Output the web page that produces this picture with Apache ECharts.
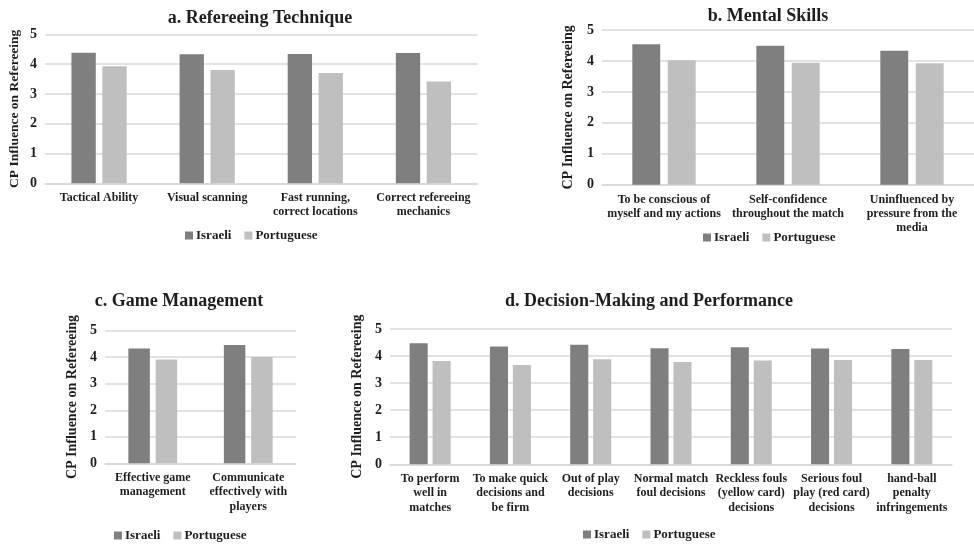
<!DOCTYPE html>
<html>
<head>
<meta charset="utf-8">
<script src="https://cdn.jsdelivr.net/npm/echarts@6/dist/echarts.min.js"></script>
<style>
html,body{margin:0;padding:0;background:#fff;}
#chart{width:974px;height:545px;}
</style>
</head>
<body>
<div id="chart"></div>
<script>
const seriesNames = ['Israeli', 'Portuguese'];
const yTicks = [0, 1, 2, 3, 4, 5];

const titleA = 'a. Refereeing Technique';
const catA = ['Tactical Ability', 'Visual scanning', 'Fast running,\ncorrect locations', 'Correct refereeing\nmechanics'];
const israeliA = [4.38, 4.33, 4.34, 4.37];
const portugueseA = [3.93, 3.80, 3.70, 3.42];

const titleB = 'b. Mental Skills';
const catB = ['To be conscious of\nmyself and my actions', 'Self-confidence\nthroughout the match', 'Uninfluenced by\npressure from the\nmedia'];
const israeliB = [4.54, 4.49, 4.33];
const portugueseB = [4.02, 3.94, 3.93];

const titleC = 'c. Game Management';
const catC = ['Effective game\nmanagement', 'Communicate\neffectively with\nplayers'];
const israeliC = [4.33, 4.46];
const portugueseC = [3.91, 4.01];

const titleD = 'd. Decision-Making and Performance';
const catD = ['To perform\nwell in\nmatches', 'To make quick\ndecisions and\nbe firm', 'Out of play\ndecisions', 'Normal match\nfoul decisions', 'Reckless fouls\n(yellow card)\ndecisions', 'Serious foul\nplay (red card)\ndecisions', 'hand-ball\npenalty\ninfringements'];
const israeliD = [4.47, 4.35, 4.42, 4.29, 4.33, 4.28, 4.26];
const portugueseD = [3.82, 3.67, 3.88, 3.78, 3.84, 3.85, 3.85];

const yName = 'CP Influence on Refereeing';

const FONT = 'Liberation Serif';
const TXT = '#1e1e1e';
const GRIDC = '#d9d9d9';
const C_ISR = '#7f7f7f';
const C_POR = '#bfbfbf';

const panels = [
  {title: titleA, cats: catA, isr: israeliA, por: portugueseA,
   grid: {left: 45, top: 34.3, width: 432.5, height: 149}, tx: 260, ty: 9.5, nameGap: 23, nameSize: 13.5, lx: 185, ly: 229},
  {title: titleB, cats: catB, isr: israeliB, por: portugueseB,
   grid: {left: 602, top: 30, width: 376, height: 154.8}, tx: 768, ty: 7.7, nameGap: 27, nameSize: 14, lx: 703, ly: 231},
  {title: titleC, cats: catC, isr: israeliC, por: portugueseC,
   grid: {left: 105, top: 330.7, width: 191, height: 132.6}, tx: 179, ty: 292.7, nameGap: 26, nameSize: 14, lx: 114, ly: 529},
  {title: titleD, cats: catD, isr: israeliD, por: portugueseD,
   grid: {left: 390, top: 329, width: 562, height: 135.3}, tx: 649, ty: 292, nameGap: 21, nameSize: 14, lx: 583, ly: 528}
];

const option = {
  backgroundColor: '#fff',
  animation: false,
  textStyle: {fontFamily: FONT},
  title: [], grid: [], xAxis: [], yAxis: [], legend: [], series: []
};

panels.forEach((p, i) => {
  option.title.push({
    text: p.title, left: p.tx, top: p.ty, textAlign: 'center', padding: 0,
    textStyle: {fontFamily: FONT, fontSize: 18, fontWeight: 'bold', color: TXT}
  });
  option.grid.push(Object.assign({containLabel: false}, p.grid));
  option.xAxis.push({
    type: 'category', gridIndex: i, data: p.cats,
    axisLine: {show: true, lineStyle: {color: GRIDC, width: 1.5}},
    axisTick: {show: false},
    axisLabel: {interval: 0, margin: 7.5, fontFamily: FONT, fontSize: 12, fontWeight: 'bold', color: TXT, lineHeight: 14.3}
  });
  option.yAxis.push({
    type: 'value', gridIndex: i, min: yTicks[0], max: yTicks[yTicks.length - 1], interval: 1,
    name: yName, nameLocation: 'middle', nameGap: p.nameGap, nameRotate: 90,
    nameTextStyle: {fontFamily: FONT, fontSize: p.nameSize, fontWeight: 'bold', color: TXT},
    axisLine: {show: false}, axisTick: {show: false},
    axisLabel: {margin: 8, fontFamily: FONT, fontSize: 14, fontWeight: 'bold', color: TXT},
    splitLine: {show: true, lineStyle: {color: GRIDC, width: 1.5}}
  });
  option.legend.push({
    data: seriesNames, left: p.lx, top: p.ly, padding: 0, itemGap: 13,
    itemWidth: 8, itemHeight: 8, icon: 'rect', selectedMode: false,
    textStyle: {fontFamily: FONT, fontSize: 13, fontWeight: 'bold', color: TXT, padding: [0, 0, 0, -2]}
  });
  option.series.push({
    name: seriesNames[0], type: 'bar', xAxisIndex: i, yAxisIndex: i, data: p.isr,
    barWidth: '22.5%', barGap: '27%', itemStyle: {color: C_ISR}
  });
  option.series.push({
    name: seriesNames[1], type: 'bar', xAxisIndex: i, yAxisIndex: i, data: p.por,
    barWidth: '22.5%', barGap: '27%', itemStyle: {color: C_POR}
  });
});

const chart = echarts.init(document.getElementById('chart'), null, {renderer: 'canvas'});
chart.setOption(option);
</script>
</body>
</html>
